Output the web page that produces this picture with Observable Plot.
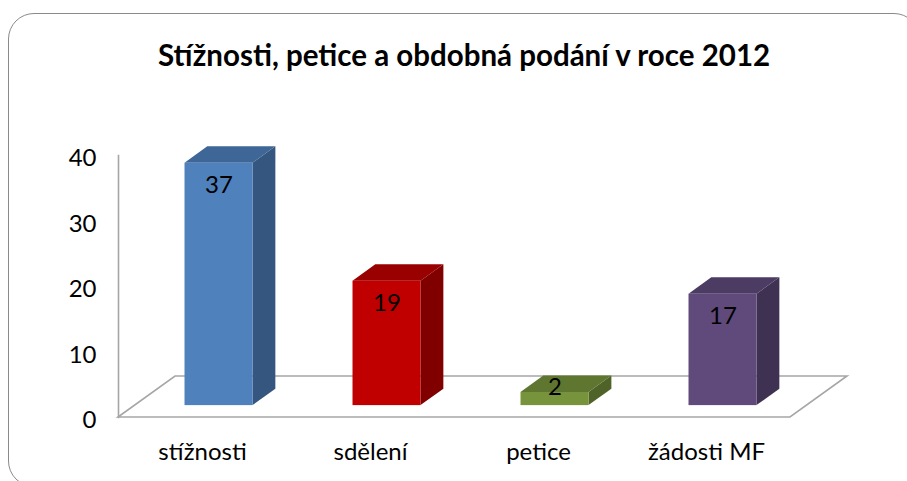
<!DOCTYPE html>
<html>
<head>
<meta charset="utf-8">
<script src="https://cdn.jsdelivr.net/npm/d3@7"></script>
<script src="https://cdn.jsdelivr.net/npm/@observablehq/plot@0.6"></script>
<style>
  html, body { margin: 0; padding: 0; background: #fff; }
  #wrap { position: relative; width: 907px; height: 481px; overflow: hidden; background: #fff; font-family: Lato, "Open Sans", sans-serif; }
  #frame { position: absolute; left: 8px; top: 13px; width: 912px; height: 474px; border: 1.8px solid #8a8a8a; border-radius: 26px; box-sizing: border-box; }
  #title { position: absolute; top: 37px; left: 14px; width: 900px; text-align: center; font-weight: bold; font-size: 29.5px; line-height: 36px; color: #000; }
  #chart { position: absolute; left: 0; top: 0; }
</style>
</head>
<body>
<div id="wrap">
  <div id="frame"></div>
  <div id="title"></div>
  <div id="chart"></div>
</div>
<script>
const titleText = "Stížnosti, petice a obdobná podání v roce 2012";
const categories = ["stížnosti", "sdělení", "petice", "žádosti MF"];
const values = [37, 19, 2, 17];
const frontColors = ["#4F81BD", "#C00000", "#77933C", "#604A7B"];
const sideColors = ["#35577F", "#800000", "#4F6228", "#3F3151"];
const topColors = ["#3E6696", "#990000", "#5E7630", "#4C3B63"];
const yTicks = [0, 10, 20, 30, 40];

const data = categories.map((cat, i) => ({cat, value: values[i], front: frontColors[i], side: sideColors[i], top: topColors[i]}));

// 3D styling constants (pixels / fractions)
const DX = 57, DY = -41;     // floor depth vector
const F0 = 0.29, F1 = 0.69;  // bar depth range within floor
const BAR = 0.405;           // bar width as fraction of band
const GRAY = "#a6a6a6";
const FS = 24;

document.getElementById("title").textContent = titleText;

function bandw(x, dim) {
  return typeof x.bandwidth === "function" ? x.bandwidth()
    : (dim.width - dim.marginLeft - dim.marginRight) / categories.length;
}

const floor = Plot.ruleY([0], {
  render(index, scales, vals, dim) {
    const y0 = scales.y(0);
    const xl = dim.marginLeft, xr = dim.width - dim.marginRight;
    const g = d3.create("svg:g");
    g.append("path")
      .attr("d", `M${xl},${y0}L${xr},${y0}L${xr + DX},${y0 + DY}L${xl + DX},${y0 + DY}Z`)
      .attr("fill", "#fff").attr("stroke", GRAY).attr("stroke-width", 1.6);
    return g.node();
  }
});

const cubes = Plot.barY(data, {
  x: "cat", y: "value",
  render(index, scales, vals, dim) {
    const x = scales.x, y = scales.y, bw = bandw(x, dim);
    const g = d3.create("svg:g");
    const ddx = (F1 - F0) * DX, ddy = (F1 - F0) * DY;
    for (const i of index) {
      const d = data[i];
      const cx = x(d.cat) + bw / 2 + F0 * DX;
      const w = bw * BAR;
      const x0 = cx - w / 2, x1 = cx + w / 2;
      const yb = y(0) + F0 * DY, yt = y(d.value) + F0 * DY;
      g.append("path")
        .attr("d", `M${x1},${yt}L${x1 + ddx},${yt + ddy}L${x1 + ddx},${yb + ddy}L${x1},${yb}Z`)
        .attr("fill", d.side);
      g.append("path")
        .attr("d", `M${x0},${yt}L${x1},${yt}L${x1 + ddx},${yt + ddy}L${x0 + ddx},${yt + ddy}Z`)
        .attr("fill", d.top);
      g.append("rect")
        .attr("x", x0).attr("y", yt).attr("width", w).attr("height", yb - yt)
        .attr("fill", d.front);
    }
    return g.node();
  }
});

const chart = Plot.plot({
  width: 907,
  height: 481,
  marginLeft: 118,
  marginRight: 117,
  marginTop: 155,
  marginBottom: 64,
  style: {fontFamily: "Lato, 'Open Sans', sans-serif", fontSize: FS + "px", background: "transparent", color: "#000"},
  x: {type: "band", domain: categories, padding: 0, label: null},
  y: {domain: [0, 40], label: null},
  marks: [
    floor,
    Plot.frame({anchor: "left", stroke: GRAY, strokeWidth: 1.6}),
    Plot.axisY({ticks: yTicks, tickSize: 0, tickPadding: 22, fontSize: FS, dy: 3, label: null}),
    Plot.axisX({tickSize: 0, tickPadding: 25, fontSize: FS, label: null}),
    cubes,
    Plot.text(data.filter(d => d.value > 5), {x: "cat", y: "value", text: d => String(d.value), dx: F0 * DX, dy: F0 * DY + 22, fontSize: FS, fill: "#000"}),
    Plot.text(data.filter(d => d.value <= 5), {x: "cat", y: "value", text: d => String(d.value), dx: F0 * DX, dy: F0 * DY - 5, fontSize: FS, fill: "#000"})
  ]
});
document.getElementById("chart").appendChild(chart);
</script>
</body>
</html>
